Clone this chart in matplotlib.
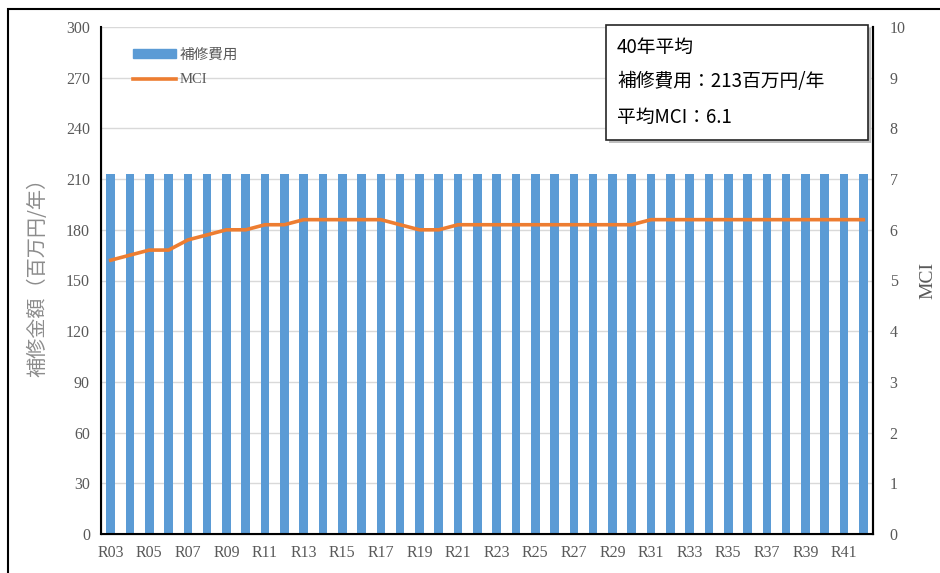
import numpy as np
import matplotlib
matplotlib.use("Agg")
from matplotlib import pyplot as plt
from matplotlib.patches import Rectangle
from matplotlib.lines import Line2D

plt.rcParams['font.family'] = ['Liberation Serif', 'Noto Sans CJK JP', 'DejaVu Sans']

years = ['R%02d' % y for y in range(3, 43)]
cost = [213, 213, 213, 213, 213, 213, 213, 213, 213, 213,
        213, 213, 213, 213, 213, 213, 213, 213, 213, 213,
        213, 213, 213, 213, 213, 213, 213, 213, 213, 213,
        213, 213, 213, 213, 213, 213, 213, 213, 213, 213]
mci = [5.4, 5.5, 5.6, 5.6, 5.8, 5.9, 6.0, 6.0, 6.1, 6.1,
       6.2, 6.2, 6.2, 6.2, 6.2, 6.1, 6.0, 6.0, 6.1, 6.1,
       6.1, 6.1, 6.1, 6.1, 6.1, 6.1, 6.1, 6.1, 6.2, 6.2,
       6.2, 6.2, 6.2, 6.2, 6.2, 6.2, 6.2, 6.2, 6.2, 6.2]
summary = ['40年平均', '補修費用：213百万円/年', '平均MCI：6.1']

blue = '#5B9BD5'
orange = '#ED7D31'
grey = '#595959'

fig = plt.figure(figsize=(9.4, 5.73), dpi=100)
ax = fig.add_axes([101/940, 1-534/573, 772/940, 507/573])
x = np.arange(len(years))
ax.bar(x, cost, width=0.45, color=blue, zorder=2)
ax.set_ylim(0, 300)
ax.set_yticks(np.arange(0, 301, 30))
ax.set_xlim(-0.5, 39.5)
ax.set_xticks(x[::2])
ax.set_xticklabels(years[::2])
ax.grid(axis='y', color='#D9D9D9', linewidth=1, zorder=0)
ax.set_axisbelow(True)
ax.tick_params(length=0, labelsize=11.5, labelcolor=grey, pad=8)
ax.tick_params(axis='x', pad=8)
for s in ['left', 'bottom', 'right']:
    ax.spines[s].set_color('black')
    ax.spines[s].set_linewidth(1.5)
ax.spines['top'].set_visible(False)
ax.set_ylabel('補修金額（百万円/年）', family=['Noto Sans CJK JP'], fontsize=14.5,
              color='#8C8C8C')
ax.yaxis.set_label_coords(-0.068, 0.515)

ax2 = ax.twinx()
ax2.plot(x, mci, color=orange, linewidth=2.6, zorder=3)
ax2.set_ylim(0, 10)
ax2.set_yticks(np.arange(0, 11, 1))
ax2.tick_params(length=0, labelsize=11.5, labelcolor=grey, pad=12)
ax2.spines['top'].set_visible(False)
ax2.spines['right'].set_linewidth(1.5)
ax2.set_ylabel('MCI', fontsize=14, color=grey, labelpad=10)

handles = [Rectangle((0, 0), 1, 1, color=blue),
           Line2D([0], [0], color=orange, linewidth=2.6)]
leg = ax.legend(handles, ['補修費用', 'MCI'], loc='upper left',
                bbox_to_anchor=(0.025, 0.985), frameon=False,
                handlelength=2.9, handleheight=0.5, handletextpad=0.3, labelcolor=grey,
                labelspacing=0.8, prop={'family': ['Noto Sans CJK JP'], 'size': 10.5})
leg.get_texts()[1].set_family('Liberation Serif')

# summary box with shadow
bx0, by0, bw, bh = 606/940, 1-140/573, 262/940, 115/573
fig.patches.append(Rectangle((bx0+3/940, by0-3/573), bw, bh, transform=fig.transFigure,
                             facecolor='#BFBFBF', edgecolor='none', zorder=4))
fig.patches.append(Rectangle((bx0, by0), bw, bh, transform=fig.transFigure,
                             facecolor='white', edgecolor='#262626', linewidth=1.2, zorder=5))
for i, t in enumerate(summary):
    fig.text(617/940, 1-(47+35*i)/573, t, family=['Noto Sans CJK JP'], fontsize=13.5,
             color='black', va='center', ha='left', zorder=6)

# outer frame
fig.patches.append(Rectangle((8/940, -0.1), 1.2, 1-9/573+0.1, transform=fig.transFigure,
                             facecolor='none', edgecolor='black', linewidth=1.5, zorder=0))

fig.savefig('out.png', dpi=100)
